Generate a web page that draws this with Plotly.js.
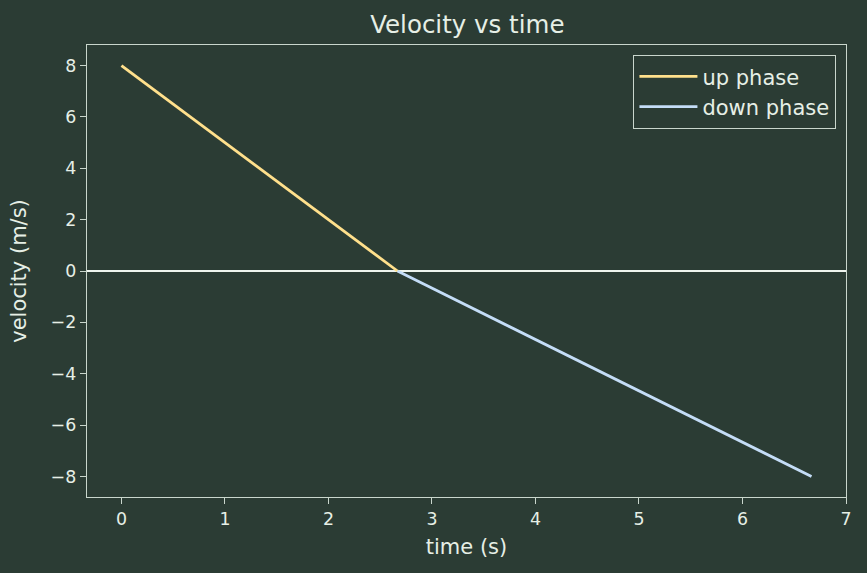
<!DOCTYPE html>
<html><head><meta charset="utf-8">
<script src="https://cdn.plot.ly/plotly-3.0.1.min.js"></script>
<style>html,body{margin:0;padding:0;background:#2b3c34;}</style>
</head><body>
<div id="chart" style="width:867px;height:573px;"></div>
<script>
const upTime = [0, 2.667];
const upVelocity = [8, 0];
const downTime = [2.667, 6.667];
const downVelocity = [0, -8];
const xTicks = [0, 1, 2, 3, 4, 5, 6, 7];
const yTicks = [-8, -6, -4, -2, 0, 2, 4, 6, 8];

const bg = '#2b3c34';
const fg = '#e6efe6';
const axisCol = '#c9d6cc';

const traces = [
  {x: upTime, y: upVelocity, mode: 'lines', name: 'up phase',
   line: {color: '#ffe08c', width: 2.8}},
  {x: downTime, y: downVelocity, mode: 'lines', name: 'down phase',
   line: {color: '#c4ddf7', width: 2.8}}
];

const layout = {
  width: 867, height: 573,
  paper_bgcolor: bg, plot_bgcolor: bg,
  font: {family: 'DejaVu Sans', color: fg, size: 17.4},
  margin: {l: 87, r: 21, t: 45, b: 76},
  title: {text: 'Velocity vs time', font: {size: 24.5, color: fg}, x: 0.539, xanchor: 'center', y: 0.958, yanchor: 'middle'},
  xaxis: {
    range: [-0.333, 7.0], tickvals: xTicks, ticktext: xTicks.map(String),
    showgrid: false, zeroline: false, showline: true, mirror: true,
    linecolor: axisCol, linewidth: 1.3, ticks: 'outside', ticklen: 6, tickcolor: axisCol,
    tickfont: {size: 17.4, color: fg},
    title: {text: 'time (s)', font: {size: 21, color: fg}, standoff: 11}
  },
  yaxis: {
    range: [-8.8, 8.8], tickvals: yTicks, ticktext: yTicks.map(v => v < 0 ? '\u2212' + Math.abs(v) : String(v)),
    showgrid: false, zeroline: true, zerolinecolor: '#eef4ee', zerolinewidth: 1.4,
    showline: true, mirror: true,
    linecolor: axisCol, linewidth: 1.3, ticks: 'outside', ticklen: 6, tickcolor: axisCol,
    tickfont: {size: 17.4, color: fg},
    title: {text: 'velocity (m/s)', font: {size: 21, color: fg}, standoff: 18}
  },
  showlegend: true,
  legend: {x: 0.987, y: 0.978, xanchor: 'right', yanchor: 'top',
    bgcolor: bg, bordercolor: axisCol, borderwidth: 1.3, itemwidth: 58,
    font: {size: 21, color: fg}, tracegroupgap: 0}
};

Plotly.newPlot('chart', traces, layout, {displayModeBar: false, staticPlot: true});
</script>
</body></html>
